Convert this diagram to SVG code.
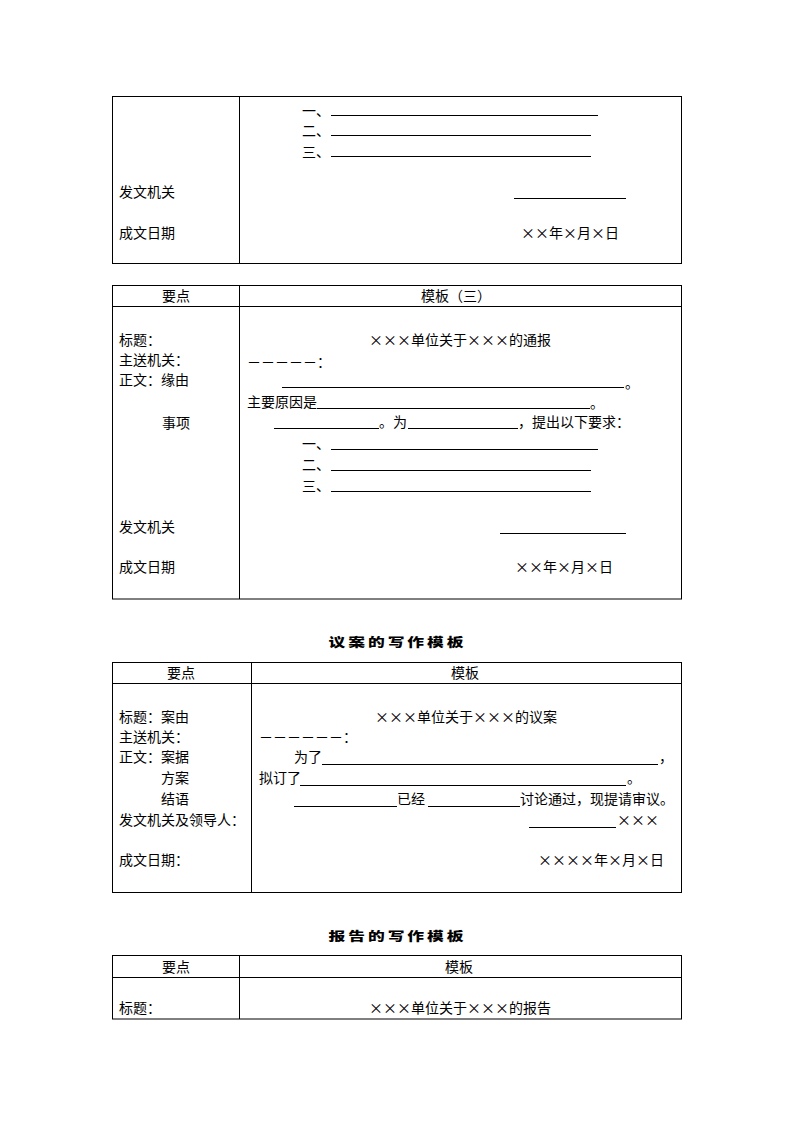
<svg xmlns="http://www.w3.org/2000/svg" width="794" height="1123" viewBox="0 0 794 1123">
<style>
text{font-family:"Noto Sans CJK SC","Noto Sans CJK JP",sans-serif;font-size:14px;fill:#000}
.m{text-anchor:middle}
.t{font-size:12px;font-weight:900;letter-spacing:2.1px}
.b{fill:none;stroke:#000;stroke-width:1}
.u{fill:none;stroke:#000;stroke-width:1}
</style>
<rect width="794" height="1123" fill="#fff"/>
<g id="table1">
<rect class="b" x="112.5" y="96.5" width="569" height="167"/>
<path class="b" d="M239.5 96.5V263.5"/>
<text x="302" y="116">一、</text>
<text x="302" y="136">二、</text>
<text x="302" y="157">三、</text>
<path class="u" d="M331 115.5H598M331 135.5H591M331 156.5H591M514 198.5H626"/>
<text x="119" y="197">发文机关</text>
<text x="119" y="238">成文日期</text>
<text x="521" y="238">××年×月×日</text>
</g>
<g id="table2">
<rect class="b" x="112.5" y="285.5" width="569" height="313.5"/>
<path class="b" d="M112.5 306.5H681.5M239.5 285.5V599"/>
<text class="m" x="176" y="301">要点</text>
<text class="m" x="456" y="301">模板（三）</text>
<text x="119" y="345">标题：</text>
<text x="119" y="365">主送机关：</text>
<text x="119" y="385">正文：缘由</text>
<text x="162" y="428">事项</text>
<text x="119" y="532">发文机关</text>
<text x="119" y="572">成文日期</text>
<text class="m" x="460" y="345">×××单位关于×××的通报</text>
<text x="247" y="367">－－－－－：</text>
<path class="u" d="M282 387.5H624M317 408.5H590M274 428.5H379M408 428.5H518"/>
<text x="625" y="388">。</text>
<text x="247" y="407">主要原因是</text>
<text x="590" y="408">。</text>
<text x="379" y="427">。为</text>
<text x="518" y="427">，提出以下要求：</text>
<text x="302" y="449">一、</text>
<text x="302" y="470">二、</text>
<text x="302" y="491">三、</text>
<path class="u" d="M331 449.5H598M331 470.5H591M331 491.5H591M500 533.5H626"/>
<text x="515" y="572">××年×月×日</text>
</g>
<g id="title-yian">
<text class="m t" transform="translate(397.5 647) scale(1.4 1)" x="0" y="0">议案的写作模板</text>
</g>
<g id="table3">
<rect class="b" x="112.5" y="662.5" width="569" height="230"/>
<path class="b" d="M112.5 683.5H681.5M251.5 662.5V892.5"/>
<text class="m" x="181" y="678">要点</text>
<text class="m" x="465" y="678">模板</text>
<text x="119" y="722">标题：案由</text>
<text x="119" y="742">主送机关：</text>
<text x="119" y="762">正文：案据</text>
<text x="161" y="783">方案</text>
<text x="161" y="804">结语</text>
<text x="119" y="825">发文机关及领导人：</text>
<text x="119" y="865">成文日期：</text>
<text class="m" x="466" y="722">×××单位关于×××的议案</text>
<text x="259" y="742">－－－－－－：</text>
<text x="294" y="762">为了</text>
<text x="659" y="762">，</text>
<text x="259" y="783">拟订了</text>
<text x="627" y="783">。</text>
<text x="397" y="804">已经</text>
<text x="520" y="804">讨论通过，现提请审议。</text>
<text x="617" y="825">×××</text>
<text x="538" y="865">××××年×月×日</text>
<path class="u" d="M322 764.5H658M300 785.5H626M294 806.5H397M428 806.5H520M529 827.5H616"/>
</g>
<g id="title-baogao">
<text class="m t" transform="translate(397.5 941) scale(1.4 1)" x="0" y="0">报告的写作模板</text>
</g>
<g id="table4">
<rect class="b" x="112.5" y="955.5" width="569" height="63.5"/>
<path class="b" d="M112.5 977.5H681.5M239.5 955.5V1019"/>
<text class="m" x="176" y="972">要点</text>
<text class="m" x="459" y="972">模板</text>
<text x="119" y="1013">标题：</text>
<text class="m" x="460" y="1013">×××单位关于×××的报告</text>
</g>
</svg>
